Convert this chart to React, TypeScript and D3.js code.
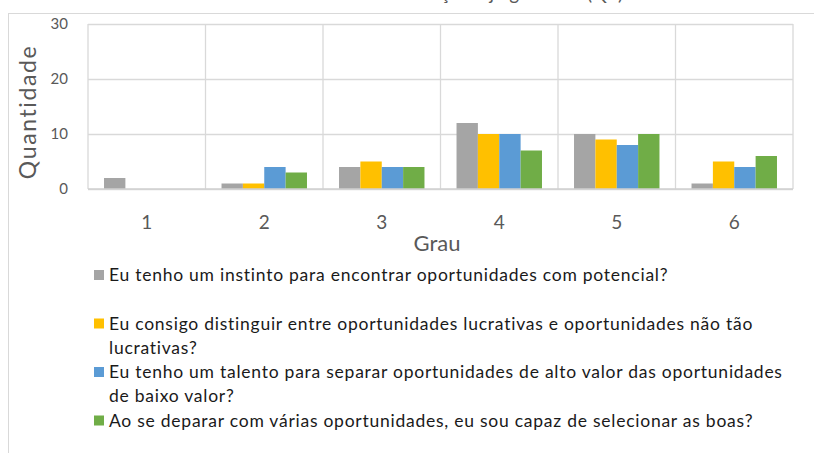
import React, { useRef, useEffect } from "react"
import * as d3 from "d3"

const categories = ["1", "2", "3", "4", "5", "6"]
const seriesNames = [
    "Eu tenho um instinto para encontrar oportunidades com potencial?",
    "Eu consigo distinguir entre oportunidades lucrativas e oportunidades não tão lucrativas?",
    "Eu tenho um talento para separar oportunidades de alto valor das oportunidades de baixo valor?",
    "Ao se deparar com várias oportunidades, eu sou capaz de selecionar as boas?",
]
const instinto = [2, 1, 4, 12, 10, 1]
const distinguir = [0, 1, 5, 10, 9, 5]
const talento = [0, 4, 4, 10, 8, 4]
const selecionar = [0, 3, 4, 7, 10, 6]
const seriesColors = ["#A5A5A5", "#FFC000", "#5B9BD5", "#70AD47"]
const yTicks = [0, 10, 20, 30]
const chartTitle = "Avaliação e julgamento (Q1)"
const xTitle = "Grau"
const yTitle = "Quantidade"

const App = () => {
    let element = useRef(null)

    useEffect(() => {
        document.body.style.margin = "0"
        const series = [instinto, distinguir, talento, selecionar]

        let width = 814, height = 453
        let plot = {left: 88, right: 793, top: 24, bottom: 189}

        let svg = d3.select(element.current)
            .append("svg")
                .attr("width", width)
                .attr("height", height)
                .style("display", "block")
                .style("font-family", "Lato, sans-serif")

        // chart frame (cropped on the right and bottom)
        svg.append("rect")
            .attr("x", 8.5).attr("y", 13.5)
            .attr("width", 900).attr("height", 600)
            .attr("fill", "#fff").attr("stroke", "#d9d9d9")

        svg.append("text")
            .attr("x", 623).attr("y", 0)
            .attr("text-anchor", "end")
            .attr("font-size", 19)
            .attr("fill", "#595959")
            .text(chartTitle)

        let x = d3.scaleBand()
            .domain(categories)
            .range([plot.left, plot.right])

        let xs = d3.scaleBand()
            .domain(d3.range(series.length).map(String))
            .range([0, x.bandwidth()])
            .paddingOuter(0.75)

        let y = d3.scaleLinear()
            .domain([0, 30])
            .range([plot.bottom, plot.top])

        // horizontal grid + y labels
        svg.append("g")
            .attr("transform", "translate(" + plot.left + ",0)")
            .call(d3.axisLeft(y).tickValues(yTicks).tickSize(-(plot.right - plot.left)).tickPadding(20))
            .call(g => g.select(".domain").remove())
            .call(g => g.selectAll(".tick line").attr("stroke", "#d9d9d9").attr("stroke-width", 1.3))
            .call(g => g.selectAll(".tick text")
                .attr("fill", "#595959")
                .attr("font-size", 15)
                .attr("font-family", "Lato, sans-serif"))

        // vertical grid at category edges
        svg.append("g")
            .selectAll("line")
            .data(categories.concat(["end"]))
            .enter()
            .append("line")
                .attr("x1", (d, i) => i < categories.length ? x(d) : plot.right)
                .attr("x2", (d, i) => i < categories.length ? x(d) : plot.right)
                .attr("y1", plot.top)
                .attr("y2", plot.bottom)
                .attr("stroke", "#d9d9d9")
                .attr("stroke-width", 1.3)

        // bars
        series.forEach((vals, s) => {
            svg.append("g")
                .selectAll("rect")
                .data(vals)
                .enter()
                .append("rect")
                    .attr("x", (d, i) => x(categories[i]) + xs(String(s)))
                    .attr("y", d => y(d))
                    .attr("width", xs.bandwidth())
                    .attr("height", d => y(0) - y(d))
                    .attr("fill", seriesColors[s])
        })

        // x axis line + labels
        svg.append("line")
            .attr("x1", plot.left).attr("x2", plot.right)
            .attr("y1", y(0)).attr("y2", y(0))
            .attr("stroke", "#d0d0d0").attr("stroke-width", 1.5)

        svg.append("g")
            .selectAll("text")
            .data(categories)
            .enter()
            .append("text")
                .attr("x", d => x(d) + x.bandwidth() / 2)
                .attr("y", 229)
                .attr("text-anchor", "middle")
                .attr("font-size", 19)
                .attr("fill", "#595959")
                .text(d => d)

        svg.append("text")
            .attr("x", 437).attr("y", 251)
            .attr("text-anchor", "middle")
            .attr("font-size", 22)
            .attr("fill", "#595959")
            .text(xTitle)

        svg.append("text")
            .attr("transform", "translate(36,112) rotate(-90)")
            .attr("text-anchor", "middle")
            .attr("font-size", 23)
            .attr("letter-spacing", 1.6)
            .attr("fill", "#595959")
            .text(yTitle)

        // legend, wrapped to the available width
        let legendX = 94, textX = 109, maxW = 684, lineH = 24, slot = 48.5
        series.forEach((vals, s) => {
            let top = 275 + s * slot
            svg.append("rect")
                .attr("x", legendX).attr("y", top - 5)
                .attr("width", 10).attr("height", 10)
                .attr("fill", seriesColors[s])

            let t = svg.append("text")
                .attr("x", textX).attr("y", top + 6)
                .attr("font-size", 17.5)
                .attr("letter-spacing", 0.75)
                .attr("fill", "#1a1a1a")
            let words = seriesNames[s].split(" ")
            let line = []
            let tspan = t.append("tspan").attr("x", textX).attr("dy", 0)
            words.forEach(w => {
                line.push(w)
                tspan.text(line.join(" "))
                if (tspan.node().getComputedTextLength() > maxW && line.length > 1) {
                    line.pop()
                    tspan.text(line.join(" "))
                    line = [w]
                    tspan = t.append("tspan").attr("x", textX).attr("dy", lineH).text(w)
                }
            })
        })

        return () => {
            if (element.current) {
                for (let child of element.current.children) {
                    child.remove()
                }
            }
        }
    }, [])

    return <div ref={element}></div>
}

export default App
